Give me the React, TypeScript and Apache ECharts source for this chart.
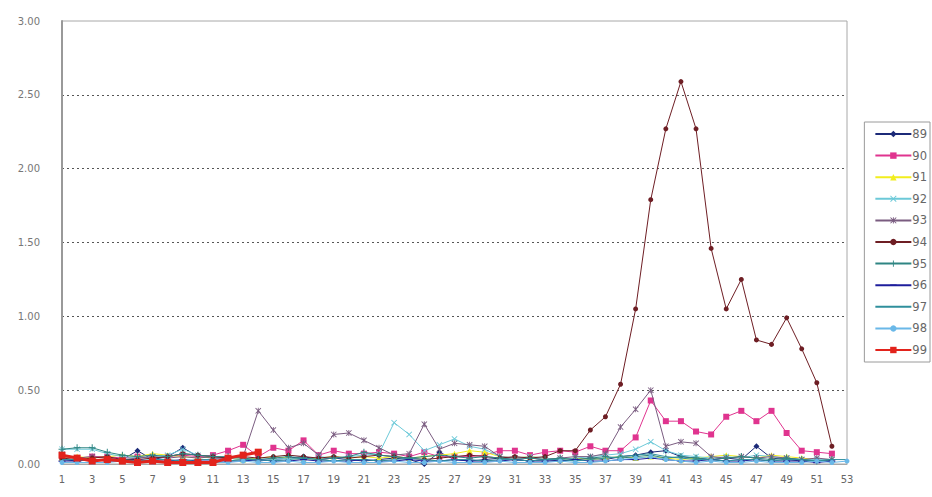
import React, { useEffect, useRef } from "react";
import * as echarts from "echarts";

const weeks = [
  "1","2","3","4","5","6","7","8","9","10","11","12","13","14","15","16","17","18","19","20",
  "21","22","23","24","25","26","27","28","29","30","31","32","33","34","35","36","37","38","39","40",
  "41","42","43","44","45","46","47","48","49","50","51","52","53",
];

const yTicks = [0, 0.5, 1, 1.5, 2, 2.5, 3];

const seriesNames = ["89", "90", "91", "92", "93", "94", "95", "96", "97", "98", "99"];

const s89 = [0.03,0.02,0.03,0.02,0.03,0.09,0.03,0.05,0.11,0.05,0.04,0.04,0.03,0.02,0.03,0.04,0.05,0.03,0.04,0.03,0.02,0.03,0.04,0.03,0.00,0.08,0.03,0.02,0.03,0.04,0.03,0.02,0.03,0.02,0.03,0.04,0.03,0.05,0.06,0.08,0.09,0.05,0.04,0.03,0.04,0.03,0.12,0.04,0.03,0.02,0.03,0.02,null];
const s90 = [0.05,0.04,0.05,0.05,0.04,0.05,0.04,0.05,0.06,0.05,0.06,0.09,0.13,0.05,0.11,0.09,0.16,0.06,0.09,0.07,0.07,0.08,0.07,0.05,0.08,0.05,0.05,0.05,0.06,0.09,0.09,0.06,0.08,0.09,0.08,0.12,0.09,0.09,0.18,0.43,0.29,0.29,0.22,0.20,0.32,0.36,0.29,0.36,0.21,0.09,0.08,0.07,null];
const s91 = [0.04,0.05,0.04,0.05,0.06,0.05,0.07,0.06,0.05,0.04,0.05,0.04,0.03,0.04,0.05,0.04,0.03,0.04,0.05,0.04,0.05,0.04,0.05,0.04,0.05,0.06,0.07,0.09,0.08,0.05,0.04,0.05,0.04,0.03,0.04,0.03,0.04,0.05,0.04,0.05,0.04,0.03,0.04,0.05,0.06,0.05,0.04,0.06,0.05,0.04,0.03,0.03,null];
const s92 = [0.10,0.10,0.10,0.07,0.05,0.04,0.05,0.06,0.10,0.06,0.05,0.04,0.03,0.02,0.03,0.04,0.03,0.05,0.04,0.05,0.06,0.07,0.28,0.20,0.09,0.13,0.17,0.12,0.10,0.05,0.04,0.05,0.04,0.03,0.04,0.05,0.06,0.07,0.10,0.15,0.09,0.06,0.05,0.04,0.05,0.04,0.06,0.05,0.04,0.03,0.03,0.03,null];
const s93 = [0.05,0.04,0.05,0.04,0.03,0.04,0.05,0.04,0.05,0.04,0.05,0.04,0.05,0.36,0.23,0.11,0.14,0.06,0.20,0.21,0.16,0.11,0.06,0.07,0.27,0.10,0.14,0.13,0.12,0.05,0.04,0.04,0.03,0.04,0.05,0.05,0.07,0.25,0.37,0.50,0.12,0.15,0.14,0.05,0.04,0.05,0.04,0.05,0.04,0.03,0.04,0.03,null];
const s94 = [0.04,0.03,0.04,0.05,0.03,0.03,0.04,0.05,0.07,0.06,0.05,0.04,0.05,0.04,0.05,0.06,0.05,0.04,0.05,0.04,0.05,0.06,0.05,0.04,0.03,0.04,0.05,0.06,0.05,0.04,0.05,0.04,0.05,0.09,0.09,0.23,0.32,0.54,1.05,1.79,2.27,2.59,2.27,1.46,1.05,1.25,0.84,0.81,0.99,0.78,0.55,0.12,null];
const s95 = [0.10,0.11,0.11,0.08,0.06,0.05,0.06,0.05,0.07,0.06,0.05,0.05,0.04,0.03,0.04,0.05,0.04,0.03,0.04,0.05,0.08,0.06,0.05,0.04,0.05,0.06,0.05,0.04,0.05,0.04,0.03,0.04,0.03,0.04,0.03,0.04,0.05,0.04,0.05,0.06,0.04,0.05,0.04,0.03,0.04,0.05,0.04,0.03,0.04,0.03,0.02,0.03,null];
const s96 = [0.02,0.02,0.03,0.02,0.02,0.03,0.02,0.02,0.03,0.02,0.02,0.02,0.02,0.03,0.02,0.02,0.03,0.02,0.02,0.02,0.03,0.02,0.02,0.03,0.02,0.02,0.03,0.02,0.02,0.02,0.03,0.02,0.02,0.02,0.03,0.02,0.02,0.03,0.03,0.04,0.03,0.02,0.02,0.03,0.02,0.02,0.03,0.02,0.02,0.02,0.01,0.02,null];
const s97 = [0.03,0.03,0.02,0.03,0.03,0.02,0.03,0.03,0.02,0.03,0.03,0.02,0.03,0.03,0.02,0.03,0.04,0.03,0.02,0.03,0.03,0.02,0.03,0.04,0.03,0.02,0.03,0.03,0.02,0.03,0.03,0.02,0.03,0.03,0.02,0.03,0.04,0.05,0.06,0.07,0.05,0.04,0.03,0.03,0.02,0.03,0.03,0.02,0.03,0.03,0.02,0.03,0.03];
const s98 = [0.01,0.01,0.01,0.01,0.02,0.01,0.01,0.01,0.02,0.01,0.01,0.01,0.02,0.01,0.01,0.02,0.01,0.01,0.02,0.01,0.01,0.01,0.02,0.01,0.01,0.02,0.01,0.01,0.01,0.02,0.01,0.01,0.01,0.02,0.01,0.01,0.02,0.03,0.04,0.05,0.03,0.02,0.01,0.02,0.01,0.01,0.02,0.01,0.01,0.01,0.02,0.01,0.02];
const s99 = [0.06,0.04,0.02,0.03,0.02,0.01,0.02,0.01,0.01,0.01,0.01,0.04,0.06,0.08,null,null,null,null,null,null,null,null,null,null,null,null,null,null,null,null,null,null,null,null,null,null,null,null,null,null,null,null,null,null,null,null,null,null,null,null,null,null,null];

const seriesData = [s89, s90, s91, s92, s93, s94, s95, s96, s97, s98, s99];

const colors = ["#1c2a78", "#e0348f", "#f2ee1e", "#6cc9d8", "#7a5c80", "#6e1e24", "#2f8583", "#1e1e9c", "#2f8f9c", "#6ab8e8", "#e2231c"];

const X_SYM = "path://M0,1L1,0L5,4L9,0L10,1L6,5L10,9L9,10L5,6L1,10L0,9L4,5Z";
const STAR_SYM = "path://M0,1L1,0L4.3,3.3V0H5.7V3.3L9,0L10,1L6.4,4.6V5.4L10,9L9,10L5.7,6.7V10H4.3V6.7L1,10L0,9L3.6,5.4V4.6Z";
const PLUS_SYM = "path://M4.3,0H5.7V4.3H10V5.7H5.7V10H4.3V5.7H0V4.3H4.3Z";
const DASH_SYM = "path://M0,0L0.01,0L0,0.01Z M0,4.1H10V5.9H0Z M10,10L9.99,10L10,9.99Z";

const symbols = ["diamond", "rect", "triangle", X_SYM, STAR_SYM, "circle", PLUS_SYM, DASH_SYM, "circle", "circle", "rect"];
const symbolSizes = [6, 6, 6, 6, 6, 5, 7, 7, 0, 5, 7];

export default function App() {
  const ref = useRef<HTMLDivElement>(null);
  useEffect(() => {
    if (!ref.current) return;
    const chart = echarts.init(ref.current, null, { renderer: "svg" });
    const font = "DejaVu Sans";
    chart.setOption({
      animation: false,
      backgroundColor: "#ffffff",
      textStyle: { fontFamily: font },
      grid: {
        left: 62,
        right: 85,
        top: 21,
        bottom: 33,
        show: true,
        borderColor: "#a8a8a8",
        borderWidth: 1,
        backgroundColor: "transparent",
      },
      legend: {
        orient: "vertical",
        right: 2,
        top: 122,
        data: seriesNames.map((n, i) =>
          i === 8 ? { name: n, itemStyle: { opacity: 0 } } : { name: n }
        ),
        itemWidth: 36,
        itemHeight: 8,
        itemGap: 9.6,
        padding: [6, 3, 6, 10],
        borderColor: "#9a9a9a",
        borderWidth: 1,
        textStyle: { color: "#666", fontSize: 11.5, fontFamily: font, padding: [0, 0, 0, -4] },
      },
      xAxis: {
        type: "category",
        data: weeks,
        boundaryGap: false,
        axisLine: { show: true, lineStyle: { color: "#a8a8a8", width: 1 } },
        axisTick: { show: false },
        axisLabel: { interval: 1, color: "#666", fontSize: 10, margin: 10, fontFamily: font },
        splitLine: { show: false },
      },
      yAxis: {
        type: "value",
        min: yTicks[0],
        max: yTicks[yTicks.length - 1],
        interval: 0.5,
        axisLine: { show: true, lineStyle: { color: "#999", width: 2 } },
        axisTick: { show: false },
        axisLabel: {
          color: "#777",
          fontSize: 10,
          margin: 22,
          fontFamily: font,
          formatter: (v: number) => v.toFixed(2),
        },
        splitLine: {
          show: true,
          showMinLine: false,
          showMaxLine: false,
          lineStyle: { color: "#555", width: 1, type: [2, 3] },
        },
      },
      series: seriesNames.map((name, i) => ({
        name,
        type: "line",
        data: seriesData[i],
        symbol: symbols[i],
        symbolSize: symbolSizes[i],
        showSymbol: i !== 8,
        connectNulls: false,
        color: colors[i],
        lineStyle: { color: colors[i], width: i === 10 ? 3 : 1 },
        itemStyle: { color: colors[i] },
        z: 2 + i,
      })),
    });
    return () => chart.dispose();
  }, []);
  return (
    <div
      ref={ref}
      style={{ position: "fixed", left: 0, top: 0, width: 932, height: 497 }}
    />
  );
}
